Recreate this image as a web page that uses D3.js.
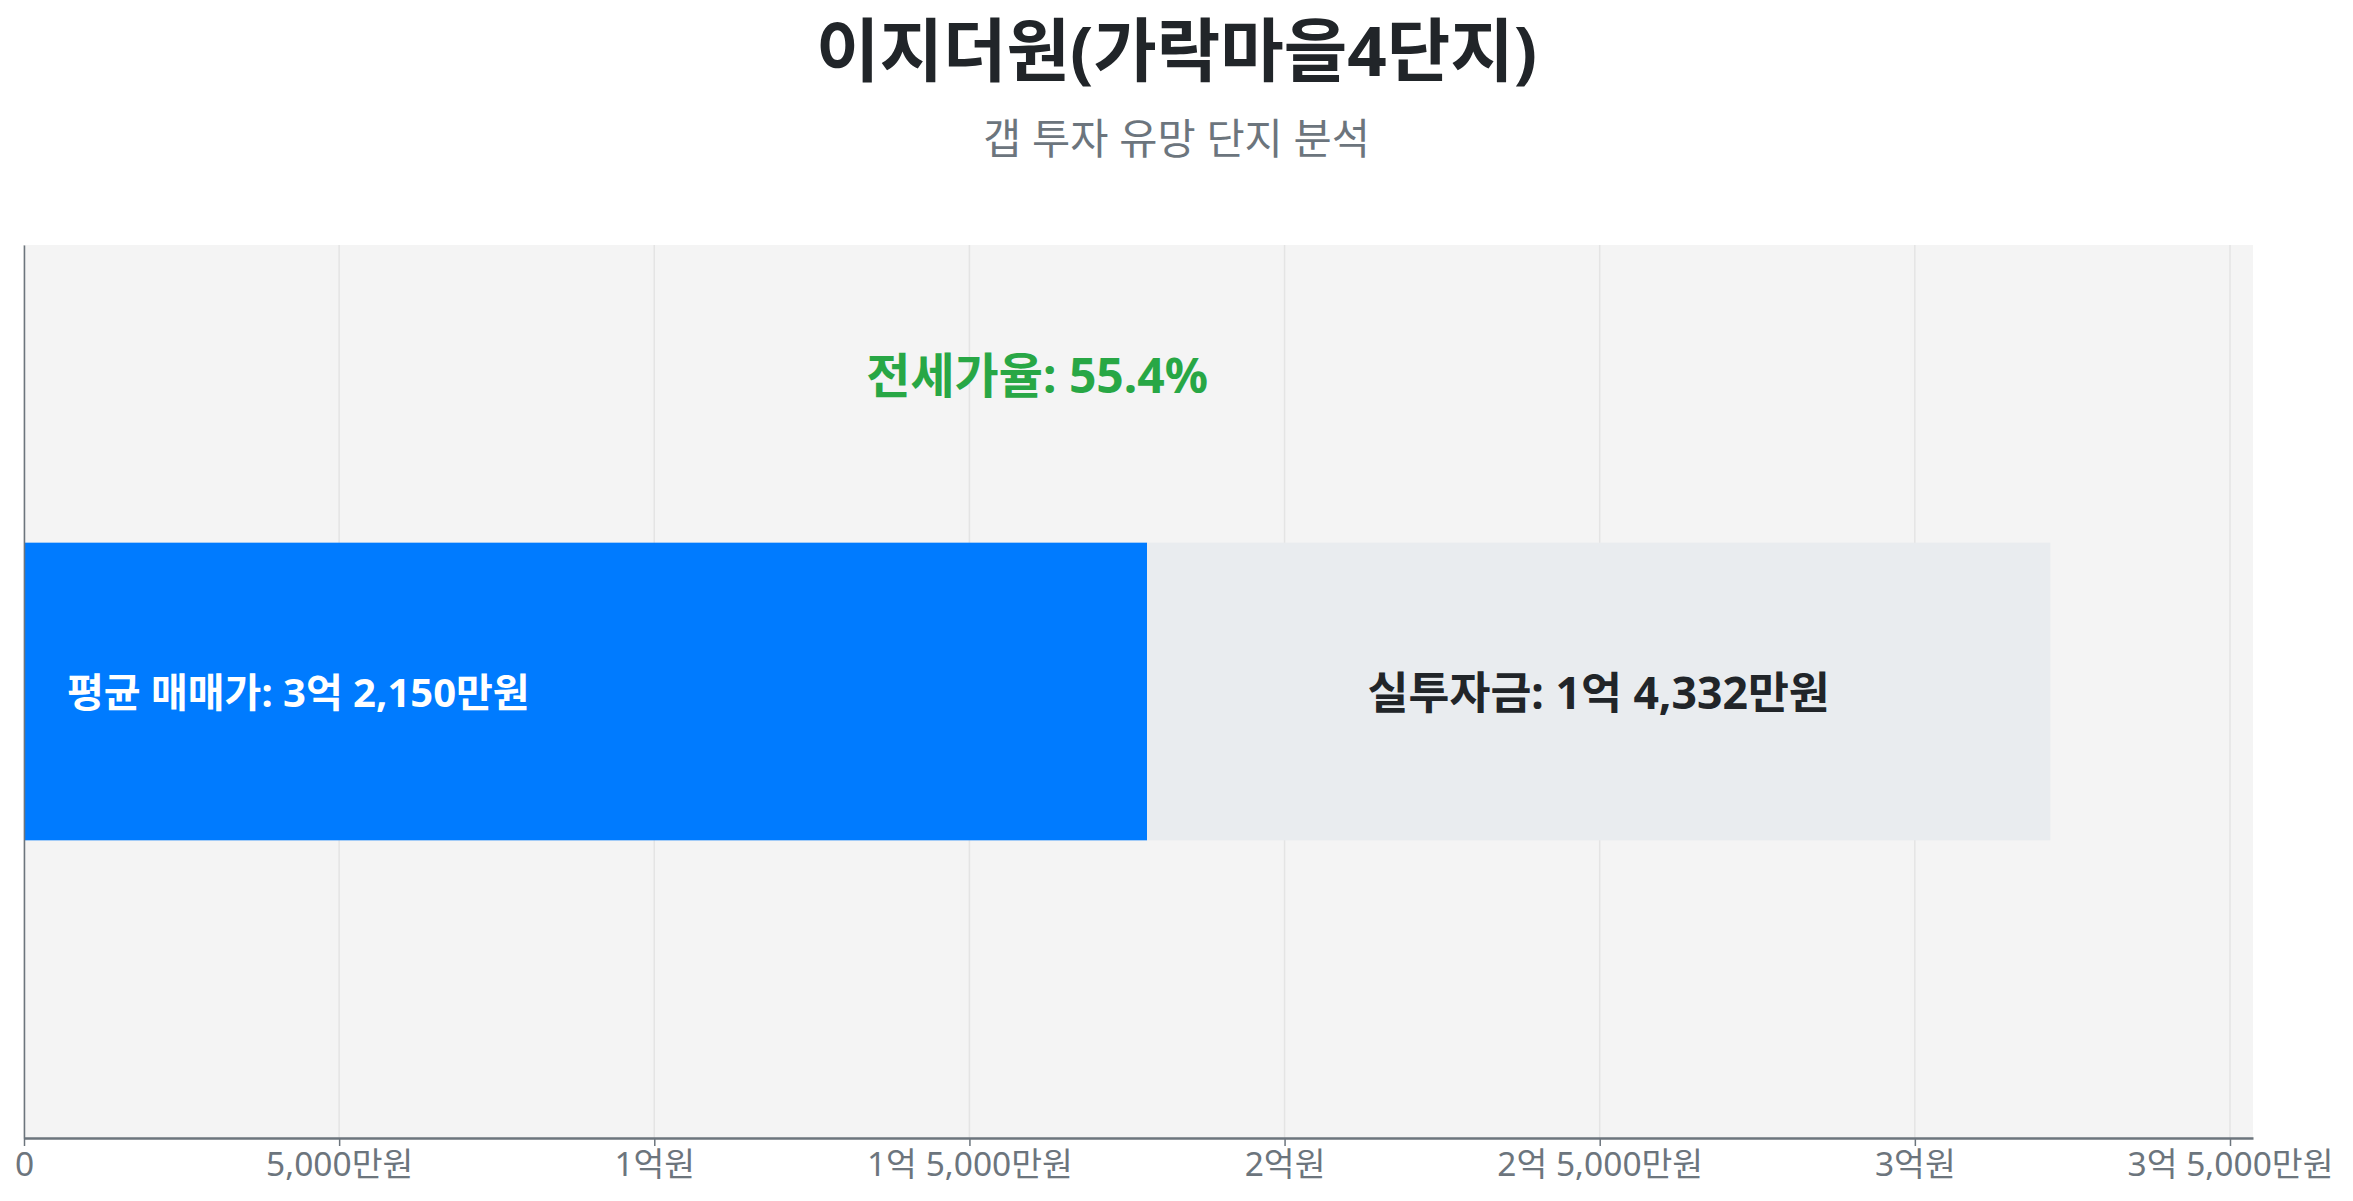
<!DOCTYPE html>
<html lang="ko">
<head>
<meta charset="utf-8">
<script src="https://cdn.jsdelivr.net/npm/d3@7"></script>
<style>
	html, body { margin: 0; padding: 0; background: #fff; }
	body { font-family: "Noto Sans", "Noto Sans CJK KR", sans-serif; }
	svg { display: block; }
</style>
</head>
<body>
<svg id="chart"></svg>
<script>
// données (en 만원)
const titre = "이지더원(가락마을4단지)";
const sous_titre = "갭 투자 유망 단지 분석";
const categories = ["이지더원(가락마을4단지)"];
const prix_moyen = [32150];   // 평균 매매가
const apport = [14332];       // 실투자금
const jeonse = prix_moyen.map((p, k) => p - apport[k]);
const ticks = [0, 5000, 10000, 15000, 20000, 25000, 30000, 35000];

function fmt_won(v) {
	if (v === 0) return "0";
	let eok = Math.floor(v / 10000), man = v % 10000;
	let s = man ? d3.format(",")(man) + "만원" : "";
	if (eok) return eok + "억" + (man ? " " + s : "원");
	return s;
}

let width = 2353, height = 1201;
let margin = {top: 245, right: 100, bottom: 63, left: 24};
let svg = d3.select("#chart")
	.attr("width", width)
	.attr("height", height);

// titres
svg.append("text")
	.attr("x", width / 2)
	.attr("y", 76)
	.attr("text-anchor", "middle")
	.style("font-size", "69px")
	.style("font-weight", "bold")
	.style("fill", "#212529")
	.text(titre);
svg.append("text")
	.attr("x", width / 2)
	.attr("y", 138)
	.attr("text-anchor", "middle")
	.attr("dominant-baseline", "central")
	.style("font-size", "41.5px")
	.style("fill", "#6c757d")
	.text(sous_titre);

let x = d3.scaleLinear()
	.domain([0, d3.max(prix_moyen) * 1.1])
	.range([margin.left, width - margin.right]);
let y = d3.scaleBand()
	.domain(categories)
	.range([margin.top, height - margin.bottom])
	.padding(0.5);

// fond + grille
svg.append("rect")
	.attr("x", margin.left)
	.attr("y", margin.top)
	.attr("width", width - margin.right - margin.left)
	.attr("height", height - margin.bottom - margin.top)
	.attr("fill", "#f4f4f4");
svg.append("g")
	.selectAll("line")
	.data(ticks)
	.join("line")
	.attr("x1", d => x(d))
	.attr("x2", d => x(d))
	.attr("y1", margin.top)
	.attr("y2", height - margin.bottom)
	.attr("stroke", "#e4e4e4")
	.attr("stroke-width", 1.5);

// barres
let g = svg.append("g");
g.selectAll("rect.jeonse")
	.data(categories)
	.join("rect")
	.attr("class", "jeonse")
	.attr("x", x(0))
	.attr("y", d => y(d))
	.attr("width", (d, k) => x(jeonse[k]) - x(0))
	.attr("height", y.bandwidth())
	.attr("fill", "#007bff");
g.selectAll("rect.apport")
	.data(categories)
	.join("rect")
	.attr("class", "apport")
	.attr("x", (d, k) => x(jeonse[k]))
	.attr("y", d => y(d))
	.attr("width", (d, k) => x(prix_moyen[k]) - x(jeonse[k]))
	.attr("height", y.bandwidth())
	.attr("fill", "#e9ecef");

// étiquettes
g.selectAll("text.prix")
	.data(categories)
	.join("text")
	.attr("x", x(0) + 43)
	.attr("y", d => y(d) + y.bandwidth() / 2)
	.attr("dominant-baseline", "central")
	.style("font-size", "40px")
	.style("font-weight", "bold")
	.style("fill", "#fff")
	.text((d, k) => "평균 매매가: " + fmt_won(prix_moyen[k]));
g.selectAll("text.apport")
	.data(categories)
	.join("text")
	.attr("x", (d, k) => (x(jeonse[k]) + x(prix_moyen[k])) / 2)
	.attr("y", d => y(d) + y.bandwidth() / 2)
	.attr("text-anchor", "middle")
	.attr("dominant-baseline", "central")
	.style("font-size", "44.5px")
	.style("font-weight", "bold")
	.style("fill", "#212529")
	.text((d, k) => "실투자금: " + fmt_won(apport[k]));
g.selectAll("text.ratio")
	.data(categories)
	.join("text")
	.attr("x", (d, k) => x(prix_moyen[k] / 2))
	.attr("y", d => y(d) - 168)
	.attr("text-anchor", "middle")
	.attr("dominant-baseline", "central")
	.style("font-size", "48px")
	.style("font-weight", "bold")
	.style("fill", "#28a745")
	.text((d, k) => "전세가율: " + (jeonse[k] / prix_moyen[k] * 100).toFixed(1) + "%");

// axes
let ax = svg.append("g")
	.attr("transform", `translate(0,${height - margin.bottom})`)
	.call(d3.axisBottom(x).tickValues(ticks).tickFormat(fmt_won).tickSize(8).tickSizeOuter(0));
ax.select(".domain").attr("stroke", "#6c757d").attr("stroke-width", 2.5);
ax.selectAll(".tick line").attr("stroke", "#6c757d").attr("stroke-width", 1.5);
ax.selectAll(".tick text")
	.attr("dy", "0.71em")
	.attr("y", 14)
	.style("font-size", "33.5px")
	.style("font-family", "\"Noto Sans\", \"Noto Sans CJK KR\", sans-serif")
	.style("fill", "#6c757d");
let ay = svg.append("g")
	.attr("transform", `translate(${margin.left},0)`)
	.call(d3.axisLeft(y).tickValues([]).tickSizeOuter(0));
ay.select(".domain").attr("stroke", "#6c757d").attr("stroke-width", 1.5);
</script>
</body>
</html>
